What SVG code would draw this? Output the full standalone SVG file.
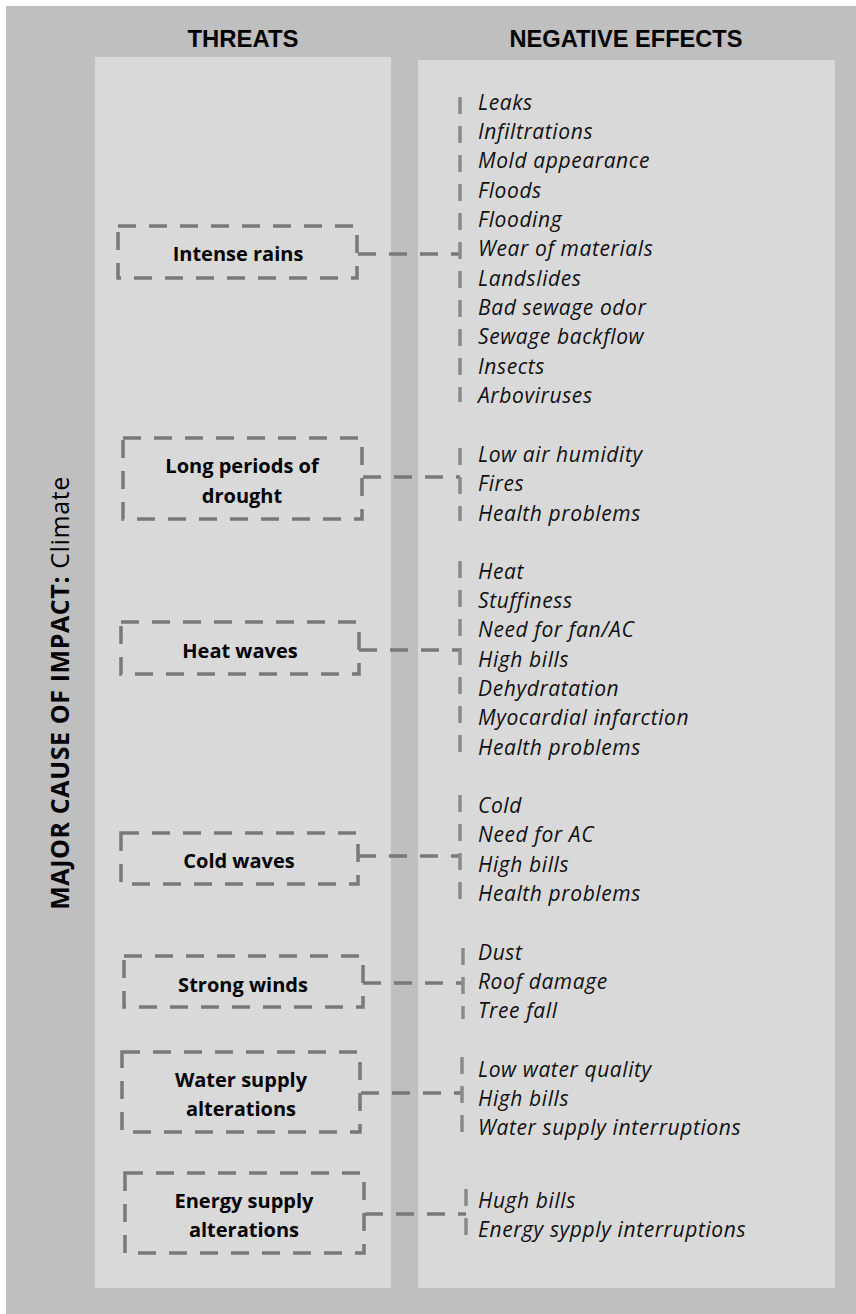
<svg xmlns="http://www.w3.org/2000/svg" width="856" height="1314" viewBox="0 0 856 1314">
<style>
.hdr{font-family:"Liberation Sans",Arial,sans-serif;font-weight:bold;font-size:24px;fill:#000;text-anchor:middle}
.box{fill:none;stroke:#7a7878;stroke-width:3.5;stroke-dasharray:18 13}
.lbl{font-family:"Open Sans","Liberation Sans",sans-serif;font-weight:bold;font-size:20px;fill:#000;text-anchor:middle}
.eff{font-family:"Open Sans","Liberation Sans",sans-serif;font-style:italic;font-size:21px;letter-spacing:0.6px;fill:#111}
.vl{fill:none;stroke:#8a8a8a;stroke-width:3.5;stroke-dasharray:17 12}
.con{fill:none;stroke:#7a7878;stroke-width:3.5;stroke-dasharray:18 13}
</style>
<rect x="0" y="0" width="856" height="1314" fill="#ffffff"/>
<rect x="6" y="6" width="850" height="1308" fill="#bfbfbf"/>
<rect x="95" y="57" width="296" height="1231" fill="#d9d9d9"/>
<rect x="418" y="60" width="417" height="1228" fill="#d9d9d9"/>
<text class="hdr" x="243" y="47" textLength="111" lengthAdjust="spacingAndGlyphs">THREATS</text>
<text class="hdr" x="626" y="47" textLength="233" lengthAdjust="spacingAndGlyphs">NEGATIVE EFFECTS</text>
<text transform="translate(69,693) rotate(-90)" font-family="Open Sans, Liberation Sans, sans-serif" font-size="25" letter-spacing="0.6" text-anchor="middle" fill="#000"><tspan font-weight="bold">MAJOR CAUSE OF IMPACT:</tspan> Climate</text>

<g id="connectors">
<line class="con" x1="358" y1="254" x2="460" y2="254"/>
<line class="con" x1="363" y1="477" x2="460" y2="477"/>
<line class="con" x1="359" y1="650" x2="460" y2="650"/>
<line class="con" x1="358" y1="856" x2="460" y2="856"/>
<line class="con" x1="363" y1="983" x2="463" y2="983"/>
<line class="con" x1="361" y1="1093" x2="462" y2="1093"/>
<line class="con" x1="365" y1="1214" x2="466" y2="1214"/>
<line class="vl" x1="460" y1="97" x2="460" y2="402"/>
<line class="vl" x1="460" y1="448" x2="460" y2="521"/>
<line class="vl" x1="460" y1="561" x2="460" y2="754"/>
<line class="vl" x1="460" y1="795" x2="460" y2="900"/>
<line class="vl" x1="463" y1="948" x2="463" y2="1019"/>
<line class="vl" x1="462" y1="1057" x2="462" y2="1133"/>
<line class="vl" x1="466" y1="1189" x2="466" y2="1239"/>
</g>

<g id="intense-rains">
<rect class="box" x="118" y="226" width="239" height="52"/>
<text class="lbl" x="238" y="261">Intense rains</text>
</g>
<g id="drought">
<rect class="box" x="123" y="438" width="239" height="81"/>
<text class="lbl" x="242" y="473">Long periods of</text>
<text class="lbl" x="242" y="503">drought</text>
</g>
<g id="heat-waves">
<rect class="box" x="121" y="622" width="238" height="52"/>
<text class="lbl" x="240" y="658">Heat waves</text>
</g>
<g id="cold-waves">
<rect class="box" x="121" y="833" width="237" height="51"/>
<text class="lbl" x="239" y="868">Cold waves</text>
</g>
<g id="strong-winds">
<rect class="box" x="124" y="956" width="239" height="51"/>
<text class="lbl" x="243" y="992">Strong winds</text>
</g>
<g id="water-supply">
<rect class="box" x="122" y="1052" width="238" height="80"/>
<text class="lbl" x="241" y="1087">Water supply</text>
<text class="lbl" x="241" y="1116">alterations</text>
</g>
<g id="energy-supply">
<rect class="box" x="125" y="1173" width="239" height="80"/>
<text class="lbl" x="244" y="1208">Energy supply</text>
<text class="lbl" x="244" y="1237">alterations</text>
</g>

<g id="effects-rains">
<text class="eff" x="478" y="110">Leaks</text>
<text class="eff" x="478" y="139">Infiltrations</text>
<text class="eff" x="478" y="168">Mold appearance</text>
<text class="eff" x="478" y="198">Floods</text>
<text class="eff" x="478" y="227">Flooding</text>
<text class="eff" x="478" y="256">Wear of materials</text>
<text class="eff" x="478" y="286">Landslides</text>
<text class="eff" x="478" y="315">Bad sewage odor</text>
<text class="eff" x="478" y="344">Sewage backflow</text>
<text class="eff" x="478" y="374">Insects</text>
<text class="eff" x="478" y="403">Arboviruses</text>
</g>
<g id="effects-drought">
<text class="eff" x="478" y="462">Low air humidity</text>
<text class="eff" x="478" y="491">Fires</text>
<text class="eff" x="478" y="521">Health problems</text>
</g>
<g id="effects-heat">
<text class="eff" x="478" y="579">Heat</text>
<text class="eff" x="478" y="608">Stuffiness</text>
<text class="eff" x="478" y="637">Need for fan/AC</text>
<text class="eff" x="478" y="667">High bills</text>
<text class="eff" x="478" y="696">Dehydratation</text>
<text class="eff" x="478" y="725">Myocardial infarction</text>
<text class="eff" x="478" y="755">Health problems</text>
</g>
<g id="effects-cold">
<text class="eff" x="478" y="813">Cold</text>
<text class="eff" x="478" y="842">Need for AC</text>
<text class="eff" x="478" y="872">High bills</text>
<text class="eff" x="478" y="901">Health problems</text>
</g>
<g id="effects-winds">
<text class="eff" x="478" y="960">Dust</text>
<text class="eff" x="478" y="989">Roof damage</text>
<text class="eff" x="478" y="1018">Tree fall</text>
</g>
<g id="effects-water">
<text class="eff" x="478" y="1077">Low water quality</text>
<text class="eff" x="478" y="1106">High bills</text>
<text class="eff" x="478" y="1135">Water supply interruptions</text>
</g>
<g id="effects-energy">
<text class="eff" x="478" y="1208">Hugh bills</text>
<text class="eff" x="478" y="1237">Energy sypply interruptions</text>
</g>
</svg>
